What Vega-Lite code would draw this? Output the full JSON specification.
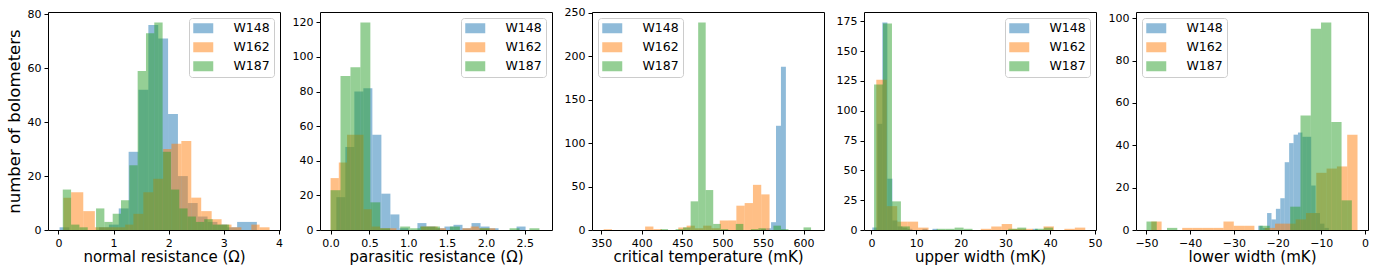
{
  "$schema": "https://vega.github.io/schema/vega-lite/v6.json",
  "padding": {"left": 5, "top": 6, "right": 5, "bottom": 5},
  "background": "white",
  "spacing": 40,
  "bounds": "flush",
  "data": {"values": [
    {"panel":1,"wafer":"W148","x0":0.02,"x1":0.199,"count":1},
    {"panel":1,"wafer":"W148","x0":0.736,"x1":0.915,"count":1},
    {"panel":1,"wafer":"W148","x0":0.915,"x1":1.094,"count":2},
    {"panel":1,"wafer":"W148","x0":1.094,"x1":1.273,"count":8},
    {"panel":1,"wafer":"W148","x0":1.273,"x1":1.452,"count":29},
    {"panel":1,"wafer":"W148","x0":1.452,"x1":1.631,"count":52},
    {"panel":1,"wafer":"W148","x0":1.631,"x1":1.81,"count":76},
    {"panel":1,"wafer":"W148","x0":1.81,"x1":1.989,"count":71},
    {"panel":1,"wafer":"W148","x0":1.989,"x1":2.168,"count":43},
    {"panel":1,"wafer":"W148","x0":2.168,"x1":2.347,"count":20},
    {"panel":1,"wafer":"W148","x0":2.347,"x1":2.526,"count":10},
    {"panel":1,"wafer":"W148","x0":2.526,"x1":2.705,"count":5},
    {"panel":1,"wafer":"W148","x0":2.705,"x1":2.884,"count":3},
    {"panel":1,"wafer":"W148","x0":2.884,"x1":3.063,"count":2},
    {"panel":1,"wafer":"W148","x0":3.063,"x1":3.242,"count":1},
    {"panel":1,"wafer":"W148","x0":3.242,"x1":3.421,"count":3},
    {"panel":1,"wafer":"W148","x0":3.421,"x1":3.6,"count":3},
    {"panel":1,"wafer":"W162","x0":0.09,"x1":0.23,"count":12},
    {"panel":1,"wafer":"W162","x0":0.23,"x1":0.45,"count":14},
    {"panel":1,"wafer":"W162","x0":0.45,"x1":0.66,"count":7},
    {"panel":1,"wafer":"W162","x0":0.66,"x1":0.85,"count":1},
    {"panel":1,"wafer":"W162","x0":0.85,"x1":1.03,"count":1},
    {"panel":1,"wafer":"W162","x0":1.03,"x1":1.21,"count":1},
    {"panel":1,"wafer":"W162","x0":1.21,"x1":1.36,"count":2},
    {"panel":1,"wafer":"W162","x0":1.36,"x1":1.54,"count":6},
    {"panel":1,"wafer":"W162","x0":1.54,"x1":1.72,"count":14},
    {"panel":1,"wafer":"W162","x0":1.72,"x1":1.9,"count":19},
    {"panel":1,"wafer":"W162","x0":1.9,"x1":2.05,"count":30},
    {"panel":1,"wafer":"W162","x0":2.05,"x1":2.23,"count":32},
    {"panel":1,"wafer":"W162","x0":2.23,"x1":2.41,"count":33},
    {"panel":1,"wafer":"W162","x0":2.41,"x1":2.59,"count":12},
    {"panel":1,"wafer":"W162","x0":2.59,"x1":2.78,"count":7},
    {"panel":1,"wafer":"W162","x0":2.78,"x1":2.96,"count":4},
    {"panel":1,"wafer":"W162","x0":2.96,"x1":3.14,"count":2},
    {"panel":1,"wafer":"W162","x0":3.14,"x1":3.32,"count":1},
    {"panel":1,"wafer":"W162","x0":3.5,"x1":3.65,"count":2},
    {"panel":1,"wafer":"W162","x0":3.65,"x1":3.83,"count":1},
    {"panel":1,"wafer":"W187","x0":0.078,"x1":0.229,"count":15},
    {"panel":1,"wafer":"W187","x0":0.229,"x1":0.38,"count":2},
    {"panel":1,"wafer":"W187","x0":0.38,"x1":0.531,"count":1},
    {"panel":1,"wafer":"W187","x0":0.682,"x1":0.833,"count":8},
    {"panel":1,"wafer":"W187","x0":0.833,"x1":0.984,"count":3},
    {"panel":1,"wafer":"W187","x0":0.984,"x1":1.135,"count":6},
    {"panel":1,"wafer":"W187","x0":1.135,"x1":1.286,"count":11},
    {"panel":1,"wafer":"W187","x0":1.286,"x1":1.437,"count":24},
    {"panel":1,"wafer":"W187","x0":1.437,"x1":1.588,"count":59},
    {"panel":1,"wafer":"W187","x0":1.588,"x1":1.739,"count":73},
    {"panel":1,"wafer":"W187","x0":1.739,"x1":1.89,"count":77},
    {"panel":1,"wafer":"W187","x0":1.89,"x1":2.041,"count":29},
    {"panel":1,"wafer":"W187","x0":2.041,"x1":2.192,"count":15},
    {"panel":1,"wafer":"W187","x0":2.192,"x1":2.343,"count":8},
    {"panel":1,"wafer":"W187","x0":2.343,"x1":2.494,"count":5},
    {"panel":1,"wafer":"W187","x0":2.494,"x1":2.645,"count":3},
    {"panel":1,"wafer":"W187","x0":2.645,"x1":2.796,"count":4},
    {"panel":1,"wafer":"W187","x0":2.796,"x1":2.947,"count":2},
    {"panel":1,"wafer":"W187","x0":2.947,"x1":3.098,"count":2},

    {"panel":2,"wafer":"W148","x0":0.074,"x1":0.19,"count":19},
    {"panel":2,"wafer":"W148","x0":0.19,"x1":0.306,"count":48},
    {"panel":2,"wafer":"W148","x0":0.306,"x1":0.422,"count":80},
    {"panel":2,"wafer":"W148","x0":0.422,"x1":0.538,"count":82},
    {"panel":2,"wafer":"W148","x0":0.538,"x1":0.654,"count":55},
    {"panel":2,"wafer":"W148","x0":0.654,"x1":0.77,"count":21},
    {"panel":2,"wafer":"W148","x0":0.77,"x1":0.886,"count":9},
    {"panel":2,"wafer":"W148","x0":0.886,"x1":1.002,"count":1},
    {"panel":2,"wafer":"W148","x0":1.118,"x1":1.234,"count":4},
    {"panel":2,"wafer":"W148","x0":1.234,"x1":1.35,"count":2},
    {"panel":2,"wafer":"W148","x0":1.35,"x1":1.466,"count":1},
    {"panel":2,"wafer":"W148","x0":1.466,"x1":1.582,"count":2},
    {"panel":2,"wafer":"W148","x0":1.582,"x1":1.698,"count":3},
    {"panel":2,"wafer":"W148","x0":1.698,"x1":1.814,"count":1},
    {"panel":2,"wafer":"W148","x0":1.814,"x1":1.93,"count":4},
    {"panel":2,"wafer":"W148","x0":1.93,"x1":2.046,"count":2},
    {"panel":2,"wafer":"W148","x0":2.046,"x1":2.162,"count":1},
    {"panel":2,"wafer":"W148","x0":2.394,"x1":2.51,"count":2},
    {"panel":2,"wafer":"W162","x0":0.0,"x1":0.106,"count":30},
    {"panel":2,"wafer":"W162","x0":0.106,"x1":0.212,"count":39},
    {"panel":2,"wafer":"W162","x0":0.212,"x1":0.318,"count":55},
    {"panel":2,"wafer":"W162","x0":0.318,"x1":0.424,"count":55},
    {"panel":2,"wafer":"W162","x0":0.424,"x1":0.53,"count":12},
    {"panel":2,"wafer":"W162","x0":0.53,"x1":0.636,"count":2},
    {"panel":2,"wafer":"W162","x0":0.636,"x1":0.742,"count":1},
    {"panel":2,"wafer":"W162","x0":0.742,"x1":0.848,"count":1},
    {"panel":2,"wafer":"W162","x0":1.166,"x1":1.272,"count":2},
    {"panel":2,"wafer":"W162","x0":1.272,"x1":1.378,"count":2},
    {"panel":2,"wafer":"W162","x0":1.378,"x1":1.484,"count":1},
    {"panel":2,"wafer":"W162","x0":1.696,"x1":1.802,"count":1},
    {"panel":2,"wafer":"W162","x0":1.802,"x1":1.908,"count":2},
    {"panel":2,"wafer":"W162","x0":1.908,"x1":2.014,"count":1},
    {"panel":2,"wafer":"W162","x0":2.014,"x1":2.12,"count":1},
    {"panel":2,"wafer":"W187","x0":0.0,"x1":0.128,"count":23},
    {"panel":2,"wafer":"W187","x0":0.128,"x1":0.256,"count":89},
    {"panel":2,"wafer":"W187","x0":0.256,"x1":0.384,"count":94},
    {"panel":2,"wafer":"W187","x0":0.384,"x1":0.512,"count":120},
    {"panel":2,"wafer":"W187","x0":0.512,"x1":0.64,"count":16},
    {"panel":2,"wafer":"W187","x0":0.64,"x1":0.768,"count":1},
    {"panel":2,"wafer":"W187","x0":0.896,"x1":1.024,"count":2},
    {"panel":2,"wafer":"W187","x0":1.024,"x1":1.152,"count":1},
    {"panel":2,"wafer":"W187","x0":1.152,"x1":1.28,"count":2},
    {"panel":2,"wafer":"W187","x0":1.28,"x1":1.408,"count":2},
    {"panel":2,"wafer":"W187","x0":1.536,"x1":1.664,"count":2},
    {"panel":2,"wafer":"W187","x0":1.92,"x1":2.048,"count":1},
    {"panel":2,"wafer":"W187","x0":2.304,"x1":2.432,"count":1},
    {"panel":2,"wafer":"W187","x0":2.56,"x1":2.688,"count":1},

    {"panel":3,"wafer":"W148","x0":547.7,"x1":553.8,"count":1},
    {"panel":3,"wafer":"W148","x0":553.8,"x1":559.9,"count":2},
    {"panel":3,"wafer":"W148","x0":559.9,"x1":566.0,"count":9},
    {"panel":3,"wafer":"W148","x0":566.0,"x1":572.1,"count":120},
    {"panel":3,"wafer":"W148","x0":572.1,"x1":578.2,"count":188},
    {"panel":3,"wafer":"W162","x0":353.0,"x1":363.25,"count":1},
    {"panel":3,"wafer":"W162","x0":404.25,"x1":414.5,"count":4},
    {"panel":3,"wafer":"W162","x0":414.5,"x1":424.75,"count":1},
    {"panel":3,"wafer":"W162","x0":445.25,"x1":455.5,"count":3},
    {"panel":3,"wafer":"W162","x0":455.5,"x1":465.75,"count":5},
    {"panel":3,"wafer":"W162","x0":465.75,"x1":476.0,"count":2},
    {"panel":3,"wafer":"W162","x0":476.0,"x1":486.25,"count":5},
    {"panel":3,"wafer":"W162","x0":486.25,"x1":496.5,"count":2},
    {"panel":3,"wafer":"W162","x0":496.5,"x1":506.75,"count":11},
    {"panel":3,"wafer":"W162","x0":506.75,"x1":517.0,"count":11},
    {"panel":3,"wafer":"W162","x0":517.0,"x1":527.25,"count":28},
    {"panel":3,"wafer":"W162","x0":527.25,"x1":537.5,"count":31},
    {"panel":3,"wafer":"W162","x0":537.5,"x1":547.75,"count":52},
    {"panel":3,"wafer":"W162","x0":547.75,"x1":558.0,"count":41},
    {"panel":3,"wafer":"W187","x0":423.3,"x1":432.6,"count":1},
    {"panel":3,"wafer":"W187","x0":441.9,"x1":451.2,"count":1},
    {"panel":3,"wafer":"W187","x0":451.2,"x1":460.5,"count":3},
    {"panel":3,"wafer":"W187","x0":460.5,"x1":469.8,"count":33},
    {"panel":3,"wafer":"W187","x0":469.8,"x1":479.1,"count":239},
    {"panel":3,"wafer":"W187","x0":479.1,"x1":488.4,"count":46},
    {"panel":3,"wafer":"W187","x0":488.4,"x1":497.7,"count":7},
    {"panel":3,"wafer":"W187","x0":497.7,"x1":507.0,"count":1},
    {"panel":3,"wafer":"W187","x0":516.3,"x1":525.6,"count":7},
    {"panel":3,"wafer":"W187","x0":534.9,"x1":544.2,"count":1},
    {"panel":3,"wafer":"W187","x0":544.2,"x1":553.5,"count":2},
    {"panel":3,"wafer":"W187","x0":562.8,"x1":572.1,"count":5},
    {"panel":3,"wafer":"W187","x0":572.1,"x1":581.4,"count":1},
    {"panel":3,"wafer":"W187","x0":600.0,"x1":609.3,"count":3},

    {"panel":4,"wafer":"W148","x0":0.21,"x1":1.33,"count":2},
    {"panel":4,"wafer":"W148","x0":1.33,"x1":2.45,"count":89},
    {"panel":4,"wafer":"W148","x0":2.45,"x1":3.57,"count":174},
    {"panel":4,"wafer":"W148","x0":3.57,"x1":4.69,"count":43},
    {"panel":4,"wafer":"W148","x0":4.69,"x1":5.81,"count":8},
    {"panel":4,"wafer":"W148","x0":5.81,"x1":6.93,"count":3},
    {"panel":4,"wafer":"W148","x0":6.93,"x1":8.05,"count":2},
    {"panel":4,"wafer":"W148","x0":8.05,"x1":9.17,"count":1},
    {"panel":4,"wafer":"W148","x0":11.41,"x1":12.53,"count":1},
    {"panel":4,"wafer":"W148","x0":13.65,"x1":14.77,"count":1},
    {"panel":4,"wafer":"W148","x0":36.05,"x1":37.17,"count":1},
    {"panel":4,"wafer":"W162","x0":1.1,"x1":3.435,"count":126},
    {"panel":4,"wafer":"W162","x0":3.435,"x1":5.77,"count":20},
    {"panel":4,"wafer":"W162","x0":5.77,"x1":8.105,"count":7},
    {"panel":4,"wafer":"W162","x0":8.105,"x1":10.44,"count":7},
    {"panel":4,"wafer":"W162","x0":10.44,"x1":12.775,"count":2},
    {"panel":4,"wafer":"W162","x0":24.45,"x1":26.785,"count":1},
    {"panel":4,"wafer":"W162","x0":26.785,"x1":29.12,"count":3},
    {"panel":4,"wafer":"W162","x0":29.12,"x1":31.455,"count":5},
    {"panel":4,"wafer":"W162","x0":31.455,"x1":33.79,"count":1},
    {"panel":4,"wafer":"W162","x0":33.79,"x1":36.125,"count":1},
    {"panel":4,"wafer":"W162","x0":38.46,"x1":40.795,"count":3},
    {"panel":4,"wafer":"W162","x0":43.13,"x1":45.465,"count":1},
    {"panel":4,"wafer":"W162","x0":45.465,"x1":47.8,"count":2},
    {"panel":4,"wafer":"W187","x0":0.6,"x1":2.6,"count":122},
    {"panel":4,"wafer":"W187","x0":2.6,"x1":4.6,"count":173},
    {"panel":4,"wafer":"W187","x0":4.6,"x1":6.6,"count":24},
    {"panel":4,"wafer":"W187","x0":6.6,"x1":8.6,"count":3},
    {"panel":4,"wafer":"W187","x0":14.6,"x1":16.6,"count":1},
    {"panel":4,"wafer":"W187","x0":16.6,"x1":18.6,"count":1},
    {"panel":4,"wafer":"W187","x0":18.6,"x1":20.6,"count":2},
    {"panel":4,"wafer":"W187","x0":20.6,"x1":22.6,"count":1},
    {"panel":4,"wafer":"W187","x0":30.6,"x1":32.6,"count":1},
    {"panel":4,"wafer":"W187","x0":32.6,"x1":34.6,"count":2},
    {"panel":4,"wafer":"W187","x0":36.6,"x1":38.6,"count":1},
    {"panel":4,"wafer":"W187","x0":38.6,"x1":40.6,"count":2},

    {"panel":5,"wafer":"W148","x0":-24.42,"x1":-23.41,"count":2},
    {"panel":5,"wafer":"W148","x0":-23.41,"x1":-22.4,"count":1},
    {"panel":5,"wafer":"W148","x0":-22.4,"x1":-21.39,"count":8},
    {"panel":5,"wafer":"W148","x0":-21.39,"x1":-20.38,"count":5},
    {"panel":5,"wafer":"W148","x0":-20.38,"x1":-19.37,"count":10},
    {"panel":5,"wafer":"W148","x0":-19.37,"x1":-18.36,"count":15},
    {"panel":5,"wafer":"W148","x0":-18.36,"x1":-17.35,"count":32},
    {"panel":5,"wafer":"W148","x0":-17.35,"x1":-16.34,"count":41},
    {"panel":5,"wafer":"W148","x0":-16.34,"x1":-15.33,"count":45},
    {"panel":5,"wafer":"W148","x0":-15.33,"x1":-14.32,"count":46},
    {"panel":5,"wafer":"W148","x0":-14.32,"x1":-13.31,"count":44},
    {"panel":5,"wafer":"W148","x0":-13.31,"x1":-12.3,"count":44},
    {"panel":5,"wafer":"W148","x0":-12.3,"x1":-11.29,"count":21},
    {"panel":5,"wafer":"W148","x0":-11.29,"x1":-10.28,"count":8},
    {"panel":5,"wafer":"W148","x0":-10.28,"x1":-9.27,"count":3},
    {"panel":5,"wafer":"W148","x0":-9.27,"x1":-8.26,"count":1},
    {"panel":5,"wafer":"W162","x0":-48.9,"x1":-46.54,"count":4},
    {"panel":5,"wafer":"W162","x0":-41.82,"x1":-39.46,"count":1},
    {"panel":5,"wafer":"W162","x0":-39.46,"x1":-37.1,"count":1},
    {"panel":5,"wafer":"W162","x0":-37.1,"x1":-34.74,"count":1},
    {"panel":5,"wafer":"W162","x0":-34.74,"x1":-32.38,"count":1},
    {"panel":5,"wafer":"W162","x0":-32.38,"x1":-30.02,"count":4},
    {"panel":5,"wafer":"W162","x0":-30.02,"x1":-27.66,"count":2},
    {"panel":5,"wafer":"W162","x0":-27.66,"x1":-25.3,"count":2},
    {"panel":5,"wafer":"W162","x0":-22.94,"x1":-20.58,"count":1},
    {"panel":5,"wafer":"W162","x0":-20.58,"x1":-18.22,"count":3},
    {"panel":5,"wafer":"W162","x0":-18.22,"x1":-15.86,"count":3},
    {"panel":5,"wafer":"W162","x0":-15.86,"x1":-13.5,"count":5},
    {"panel":5,"wafer":"W162","x0":-13.5,"x1":-11.14,"count":8},
    {"panel":5,"wafer":"W162","x0":-11.14,"x1":-8.78,"count":27},
    {"panel":5,"wafer":"W162","x0":-8.78,"x1":-6.42,"count":29},
    {"panel":5,"wafer":"W162","x0":-6.42,"x1":-4.06,"count":30},
    {"panel":5,"wafer":"W162","x0":-4.06,"x1":-1.7,"count":45},
    {"panel":5,"wafer":"W187","x0":-50.0,"x1":-47.65,"count":4},
    {"panel":5,"wafer":"W187","x0":-45.3,"x1":-42.95,"count":1},
    {"panel":5,"wafer":"W187","x0":-24.15,"x1":-21.8,"count":2},
    {"panel":5,"wafer":"W187","x0":-17.1,"x1":-14.75,"count":11},
    {"panel":5,"wafer":"W187","x0":-14.75,"x1":-12.4,"count":54},
    {"panel":5,"wafer":"W187","x0":-12.4,"x1":-10.05,"count":95},
    {"panel":5,"wafer":"W187","x0":-10.05,"x1":-7.7,"count":98},
    {"panel":5,"wafer":"W187","x0":-7.7,"x1":-5.35,"count":51},
    {"panel":5,"wafer":"W187","x0":-5.35,"x1":-3.0,"count":14}
  ]},
  "resolve": {
    "scale": {"x": "independent", "y": "independent", "color": "independent"},
    "legend": {"color": "independent"}
  },
  "hconcat": [
    {
      "width": 232, "height": 218,
      "transform": [{"filter": "datum.panel == 1"}],
      "mark": {"type": "rect", "opacity": 0.5},
      "encoding": {
        "x": {"field": "x0", "type": "quantitative", "scale": {"domain": [-0.19, 4.02], "nice": false, "zero": false}, "axis": {"title": "normal resistance (Ω)", "values": [0, 1, 2, 3, 4], "format": "d"}},
        "x2": {"field": "x1"},
        "y": {"field": "count", "type": "quantitative", "scale": {"domain": [0, 80.85], "nice": false}, "axis": {"title": "number of bolometers", "values": [0, 20, 40, 60, 80]}},
        "y2": {"datum": 0},
        "color": {"field": "wafer", "type": "nominal", "scale": {"domain": ["W148", "W162", "W187"], "range": ["#1f77b4", "#ff7f0e", "#2ca02c"]},
          "legend": {"title": null, "orient": "top-right", "symbolType": "M-2,-1H2V1H-2Z", "symbolSize": 100, "symbolOpacity": 0.5}}
      }
    },
    {
      "width": 232, "height": 218,
      "transform": [{"filter": "datum.panel == 2"}],
      "mark": {"type": "rect", "opacity": 0.5},
      "encoding": {
        "x": {"field": "x0", "type": "quantitative", "scale": {"domain": [-0.136, 2.85], "nice": false, "zero": false}, "axis": {"title": "parasitic resistance (Ω)", "values": [0, 0.5, 1, 1.5, 2, 2.5], "format": ".1f"}},
        "x2": {"field": "x1"},
        "y": {"field": "count", "type": "quantitative", "scale": {"domain": [0, 126], "nice": false}, "axis": {"title": null, "values": [0, 20, 40, 60, 80, 100, 120]}},
        "y2": {"datum": 0},
        "color": {"field": "wafer", "type": "nominal", "scale": {"domain": ["W148", "W162", "W187"], "range": ["#1f77b4", "#ff7f0e", "#2ca02c"]},
          "legend": {"title": null, "orient": "top-right", "symbolType": "M-2,-1H2V1H-2Z", "symbolSize": 100, "symbolOpacity": 0.5}}
      }
    },
    {
      "width": 232, "height": 218,
      "transform": [{"filter": "datum.panel == 3"}],
      "mark": {"type": "rect", "opacity": 0.5},
      "encoding": {
        "x": {"field": "x0", "type": "quantitative", "scale": {"domain": [338.6, 625.3], "nice": false, "zero": false}, "axis": {"title": "critical temperature (mK)", "values": [350, 400, 450, 500, 550, 600], "format": "d"}},
        "x2": {"field": "x1"},
        "y": {"field": "count", "type": "quantitative", "scale": {"domain": [0, 251], "nice": false}, "axis": {"title": null, "values": [0, 50, 100, 150, 200, 250]}},
        "y2": {"datum": 0},
        "color": {"field": "wafer", "type": "nominal", "scale": {"domain": ["W148", "W162", "W187"], "range": ["#1f77b4", "#ff7f0e", "#2ca02c"]},
          "legend": {"title": null, "orient": "top-left", "symbolType": "M-2,-1H2V1H-2Z", "symbolSize": 100, "symbolOpacity": 0.5}}
      }
    },
    {
      "width": 232, "height": 218,
      "transform": [{"filter": "datum.panel == 4"}],
      "mark": {"type": "rect", "opacity": 0.5},
      "encoding": {
        "x": {"field": "x0", "type": "quantitative", "scale": {"domain": [-1.65, 50.2], "nice": false, "zero": false}, "axis": {"title": "upper width (mK)", "values": [0, 10, 20, 30, 40, 50], "format": "d"}},
        "x2": {"field": "x1"},
        "y": {"field": "count", "type": "quantitative", "scale": {"domain": [0, 182.7], "nice": false}, "axis": {"title": null, "values": [0, 25, 50, 75, 100, 125, 150, 175]}},
        "y2": {"datum": 0},
        "color": {"field": "wafer", "type": "nominal", "scale": {"domain": ["W148", "W162", "W187"], "range": ["#1f77b4", "#ff7f0e", "#2ca02c"]},
          "legend": {"title": null, "orient": "top-right", "symbolType": "M-2,-1H2V1H-2Z", "symbolSize": 100, "symbolOpacity": 0.5}}
      }
    },
    {
      "width": 232, "height": 218,
      "transform": [{"filter": "datum.panel == 5"}],
      "mark": {"type": "rect", "opacity": 0.5},
      "encoding": {
        "x": {"field": "x0", "type": "quantitative", "scale": {"domain": [-52.4, 0.7], "nice": false, "zero": false}, "axis": {"title": "lower width (mK)", "values": [-50, -40, -30, -20, -10, 0], "format": "d"}},
        "x2": {"field": "x1"},
        "y": {"field": "count", "type": "quantitative", "scale": {"domain": [0, 102.9], "nice": false}, "axis": {"title": null, "values": [0, 20, 40, 60, 80, 100]}},
        "y2": {"datum": 0},
        "color": {"field": "wafer", "type": "nominal", "scale": {"domain": ["W148", "W162", "W187"], "range": ["#1f77b4", "#ff7f0e", "#2ca02c"]},
          "legend": {"title": null, "orient": "top-left", "symbolType": "M-2,-1H2V1H-2Z", "symbolSize": 100, "symbolOpacity": 0.5}}
      }
    }
  ],
  "config": {
    "font": "DejaVu Sans",
    "view": {"stroke": "black", "strokeWidth": 1},
    "axis": {
      "grid": false, "domain": false,
      "tickColor": "black", "tickSize": 4, "tickWidth": 1,
      "labelColor": "black", "labelFont": "DejaVu Sans", "labelFontSize": 11, "labelPadding": 3,
      "labelFlush": false, "labelOverlap": false,
      "titleFont": "DejaVu Sans", "titleFontSize": 15, "titleFontWeight": "normal", "titleColor": "black", "titlePadding": 1
    },
    "axisY": {"titleFontSize": 16.5, "titlePadding": 5},
    "legend": {
      "labelFont": "DejaVu Sans", "labelFontSize": 12.5, "labelColor": "black",
      "labelOffset": 24, "symbolOffset": 4, "rowPadding": 6, "padding": 4,
      "fillColor": "rgba(255,255,255,0.8)", "strokeColor": "#cccccc", "cornerRadius": 3,
      "offset": 6, "symbolStrokeWidth": 0
    }
  }
}
